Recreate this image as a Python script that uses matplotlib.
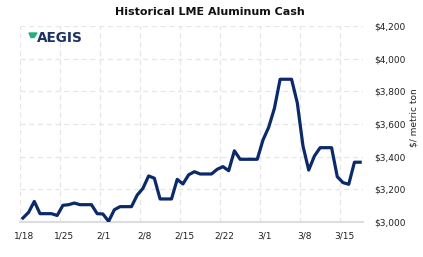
import numpy as np
import matplotlib
matplotlib.use('Agg')
import matplotlib.pyplot as plt
import matplotlib.transforms as mtrans
from matplotlib.patches import Polygon

# daily cash price, starting 1/18 (one value per calendar day)
prices = [3024, 3059, 3126, 3051, 3051, 3051, 3040, 3102, 3106, 3116,
          3106, 3106, 3106, 3051, 3049, 3004, 3075, 3094, 3094, 3094,
          3165, 3206, 3282, 3268, 3141, 3141, 3141, 3261, 3233, 3289,
          3308, 3294, 3294, 3294, 3323, 3339, 3314, 3436, 3384, 3384,
          3384, 3384, 3502, 3580, 3696, 3874, 3874, 3874, 3730, 3465,
          3318, 3404, 3455, 3455, 3455, 3277, 3241, 3231, 3366, 3366]
days = np.arange(len(prices)) + 0.5
tick_days = [0, 7, 14, 21, 28, 35, 42, 49, 56]
tick_labels = ['1/18', '1/25', '2/1', '2/8', '2/15', '2/22', '3/1', '3/8', '3/15']
yticks = [3000, 3200, 3400, 3600, 3800, 4000, 4200]

fig = plt.figure(figsize=(4.23, 2.57), dpi=100)
ax = fig.add_axes([0.0473, 0.1362, 0.8109, 0.7626])

ax.plot(days, prices, color='#0c2a6a', lw=2.3, solid_joinstyle='round', zorder=3)

ax.set_xlim(0, 60)
ax.set_ylim(3000, 4200)
ax.set_xticks(tick_days)
ax.set_xticklabels(tick_labels, fontsize=6.5, color='#222222')
ax.set_yticks(yticks)
ax.set_yticklabels(['$%s' % format(v, ',') for v in yticks], fontsize=6.5, color='#222222')
ax.yaxis.tick_right()
ax.tick_params(axis='both', length=0)
ax.tick_params(axis='y', pad=8)
ax.tick_params(axis='x', pad=7)
off = mtrans.ScaledTranslation(4/100., 0, fig.dpi_scale_trans)
for lab in ax.get_xticklabels():
    lab.set_transform(lab.get_transform() + off)

ax.grid(True, color='#e6e6e6', ls=(0, (4, 3)), lw=0.9)
for s in ['top', 'left', 'right']:
    ax.spines[s].set_visible(False)
ax.spines['bottom'].set_color('#dddddd')
ax.spines['bottom'].set_linewidth(1.5)
ax.set_axisbelow(True)

ax.yaxis.set_label_position('right')
ax.set_ylabel('$/ metric ton', fontsize=6.5, color='#222222', labelpad=5)
ax.yaxis.set_label_coords(1.135, 0.53)

fig.text(0.497, 0.955, 'Historical LME Aluminum Cash', ha='center', va='center',
         fontsize=8, fontweight='bold', color='#111111')

# logo
fig.text(37/423, 1-38.5/257, 'AEGIS', ha='left', va='center', fontsize=9.8,
         fontweight='bold', color='#1d3461')
fig.patches.append(Polygon([[29/423, 1-33/257], [37/423, 1-33/257],
                            [34/423, 1-37.5/257], [31/423, 1-37.5/257]],
                           closed=True, color='#22b07d', transform=fig.transFigure))

fig.savefig('out.png', dpi=100)
